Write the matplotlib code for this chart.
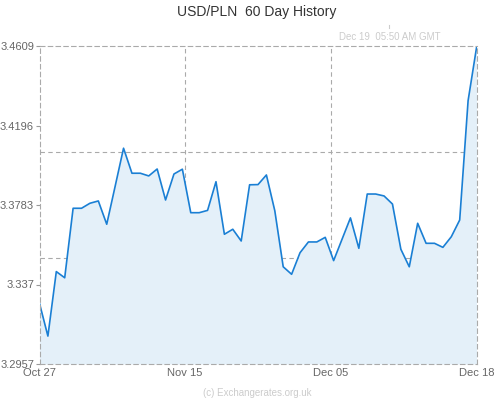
import matplotlib.pyplot as plt
import numpy as np

plt.rcParams["font.family"] = ["Liberation Sans", "DejaVu Sans"]

# USD/PLN daily rates, Oct 27 -> Dec 18
rates = [
    3.3272, 3.3102, 3.3437, 3.3405, 3.3766, 3.3766, 3.3792, 3.3804, 3.3683,
    3.3880, 3.4078, 3.3948, 3.3948, 3.3934, 3.3970, 3.3809, 3.3944, 3.3969,
    3.3743, 3.3743, 3.3755, 3.3904, 3.3631, 3.3657, 3.3596, 3.3888, 3.3889,
    3.3939, 3.3753, 3.3462, 3.3423, 3.3535, 3.3591, 3.3591, 3.3615, 3.3494,
    3.3605, 3.3716, 3.3558, 3.3840, 3.3840, 3.3830, 3.3788, 3.3553, 3.3462,
    3.3688, 3.3584, 3.3584, 3.3563, 3.3618, 3.3705, 3.4325, 3.4600,
]
y_ticks = [3.2957, 3.337, 3.3783, 3.4196, 3.4609]
y_tick_labels = ["3.2957", "3.337", "3.3783", "3.4196", "3.4609"]
x_tick_labels = ["Oct 27", "Nov 15", "Dec 05", "Dec 18"]

y_min, y_max = y_ticks[0], y_ticks[-1]
n = len(rates)
x = np.arange(n)
x_ticks = np.linspace(0, n - 1, 4)

fig = plt.figure(figsize=(4.95, 4.0), dpi=100)
ax = fig.add_axes([39.5 / 495, 1 - 364 / 400, 437 / 495, 318 / 400])

grid_style = dict(color="#aaaaaa", linestyle=(0, (4, 3)), linewidth=0.8)

# grid in thirds, drawn under the fill
for gy in np.linspace(y_min, y_max, 4)[1:3]:
    ax.axhline(gy, zorder=1, **grid_style)
for gx in x_ticks[1:3]:
    ax.axvline(gx, zorder=1, **grid_style)

ax.fill_between(x, rates, y_min, color="#e4f0f9", zorder=2, linewidth=0)
ax.plot(x, rates, color="#1a7fd4", linewidth=1.2, zorder=3)

ax.set_xlim(0, n - 1)
ax.set_ylim(y_min, y_max)

for side in ["left", "right", "top", "bottom"]:
    ax.spines[side].set_color("#aaaaaa")
    ax.spines[side].set_linestyle((0, (4, 3)))
    ax.spines[side].set_linewidth(0.8)
    ax.spines[side].set_zorder(4)

ax.set_yticks(y_ticks)
ax.set_yticklabels(y_tick_labels)
ax.set_xticks(x_ticks)
ax.set_xticklabels(x_tick_labels)
ax.tick_params(axis="y", length=3, width=0.8, color="#999999",
               labelcolor="#666666", labelsize=8, pad=1)
ax.tick_params(axis="x", length=0, labelcolor="#666666", labelsize=8, pad=3)

fig.text(257 / 495, 1 - 12 / 400, "USD/PLN  60 Day History", ha="center",
         va="center", fontsize=10, color="#333333")
fig.text(390 / 495, 1 - 37 / 400, "Dec 19  05:50 AM GMT", ha="center",
         va="center", fontsize=7, color="#cccccc")
fig.add_artist(plt.Line2D([389 / 495, 389 / 495], [1 - 28 / 400, 1 - 25 / 400],
                          color="#cccccc", linewidth=0.8))
fig.text(257 / 495, 1 - 393 / 400, "(c) Exchangerates.org.uk", ha="center",
         va="center", fontsize=7, color="#cccccc")

fig.savefig("out.png", dpi=100)
